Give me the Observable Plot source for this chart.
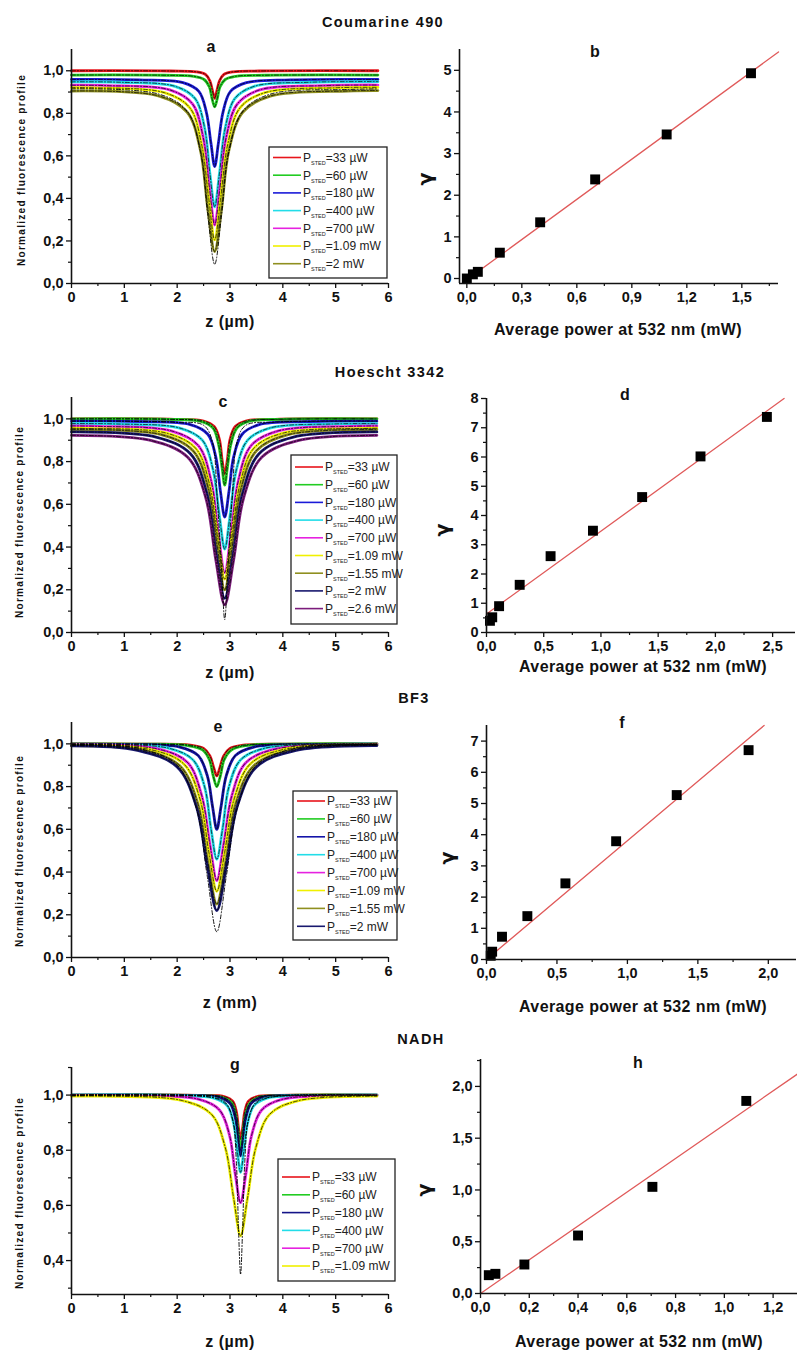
<!DOCTYPE html>
<html><head><meta charset="utf-8">
<script src="https://cdn.jsdelivr.net/npm/d3@7"></script>
<script src="https://cdn.jsdelivr.net/npm/@observablehq/plot@0.6"></script>
<style>
body{margin:0;background:#fff;}
#root{position:relative;width:797px;height:1351px;overflow:hidden;font-family:"Liberation Sans",Arial,sans-serif;color:#111;}
.panel{position:absolute;}
.panel svg{display:block;overflow:visible;}
.txt{position:absolute;white-space:nowrap;font-weight:bold;transform:translate(-50%,-50%);line-height:1;}
</style></head><body><div id="root"></div>
<script>
// ---------- DATA: normalized fluorescence profiles [z, value] ----------
// Coumarine 490 (panel a)
const a33   = [[0,1.0],[1.87,0.999],[2.36,0.995],[2.54,0.982],[2.62,0.952],[2.67,0.904],[2.71,0.87],[2.75,0.904],[2.80,0.952],[2.88,0.982],[3.06,0.995],[3.55,0.999],[5.8,1.0]];
const a60   = [[0,0.98],[1.75,0.979],[2.31,0.974],[2.51,0.959],[2.61,0.924],[2.66,0.87],[2.71,0.83],[2.76,0.87],[2.81,0.924],[2.91,0.959],[3.11,0.974],[3.67,0.979],[5.8,0.98]];
const a180  = [[0,0.959],[1.27,0.957],[2.11,0.944],[2.41,0.903],[2.55,0.808],[2.64,0.659],[2.71,0.55],[2.78,0.659],[2.87,0.808],[3.01,0.903],[3.31,0.944],[4.15,0.957],[5.8,0.959]];
const a400  = [[0,0.948],[0.91,0.946],[1.96,0.927],[2.34,0.869],[2.52,0.731],[2.62,0.516],[2.71,0.36],[2.80,0.516],[2.91,0.731],[3.09,0.869],[3.46,0.927],[4.51,0.946],[5.8,0.949]];
const a700  = [[0,0.932],[0.67,0.930],[1.86,0.910],[2.29,0.844],[2.49,0.690],[2.61,0.450],[2.71,0.275],[2.81,0.450],[2.93,0.690],[3.14,0.844],[3.56,0.910],[4.75,0.930],[5.8,0.933]];
const a1090 = [[0,0.921],[0.43,0.920],[1.76,0.897],[2.24,0.826],[2.46,0.657],[2.60,0.396],[2.71,0.205],[2.82,0.396],[2.96,0.657],[3.19,0.826],[3.66,0.897],[4.99,0.920],[5.8,0.922]];
const a2000 = [[0,0.905],[1.66,0.881],[2.19,0.805],[2.44,0.627],[2.58,0.351],[2.71,0.15],[2.84,0.351],[2.98,0.627],[3.24,0.805],[3.76,0.881],[5.23,0.905],[5.8,0.907]];
const aFit  = [[0,0.915],[1.66,0.89],[2.19,0.81],[2.44,0.62],[2.58,0.32],[2.71,0.09],[2.84,0.32],[2.98,0.62],[3.24,0.81],[3.76,0.89],[5.23,0.912],[5.8,0.915]];
// Hoescht 3342 (panel c)
const c33   = [[0,1.0],[1.94,0.998],[2.5,0.99],[2.7,0.964],[2.8,0.903],[2.85,0.809],[2.9,0.74],[2.95,0.809],[3.0,0.903],[3.1,0.964],[3.3,0.99],[3.86,0.998],[5.78,1.0]];
const c60   = [[0,1.0],[1.82,0.998],[2.45,0.988],[2.68,0.957],[2.78,0.885],[2.85,0.772],[2.9,0.69],[2.95,0.772],[3.02,0.885],[3.13,0.957],[3.35,0.988],[3.98,0.998],[5.78,1.0]];
const c180  = [[0,0.989],[1.34,0.987],[2.25,0.973],[2.58,0.928],[2.73,0.823],[2.82,0.659],[2.9,0.54],[2.98,0.659],[3.07,0.823],[3.23,0.928],[3.55,0.973],[4.46,0.987],[5.78,0.989]];
const c400  = [[0,0.978],[0.86,0.976],[2.05,0.957],[2.48,0.899],[2.68,0.761],[2.8,0.546],[2.9,0.39],[3.0,0.546],[3.12,0.761],[3.33,0.899],[3.75,0.957],[4.94,0.976],[5.78,0.978]];
const c700  = [[0,0.967],[0.5,0.965],[1.9,0.943],[2.4,0.875],[2.64,0.713],[2.78,0.463],[2.9,0.28],[3.02,0.463],[3.16,0.713],[3.4,0.875],[3.9,0.943],[5.3,0.965],[5.78,0.967]];
const c1090 = [[0,0.956],[0.26,0.955],[1.8,0.933],[2.35,0.862],[2.61,0.696],[2.77,0.438],[2.9,0.25],[3.03,0.438],[3.19,0.696],[3.45,0.862],[4.0,0.933],[5.54,0.955],[5.78,0.956]];
const c1550 = [[0,0.95],[1.7,0.926],[2.3,0.851],[2.59,0.674],[2.76,0.40],[2.9,0.2],[3.04,0.40],[3.21,0.674],[3.5,0.851],[4.1,0.926],[5.78,0.95]];
const c2000 = [[0,0.939],[1.6,0.915],[2.25,0.837],[2.56,0.653],[2.74,0.368],[2.9,0.16],[3.06,0.368],[3.24,0.653],[3.55,0.837],[4.2,0.915],[5.78,0.939]];
const c2600 = [[0,0.923],[1.5,0.899],[2.2,0.82],[2.54,0.632],[2.73,0.342],[2.9,0.13],[3.07,0.342],[3.26,0.632],[3.6,0.82],[4.3,0.899],[5.78,0.923]];
const cFit  = [[0,0.99],[1.94,0.985],[2.5,0.97],[2.66,0.9],[2.76,0.62],[2.84,0.3],[2.9,0.06],[2.96,0.3],[3.04,0.62],[3.14,0.9],[3.3,0.97],[3.86,0.985],[5.78,0.99]];
// BF3 (panel e)
const e33   = [[0,1.0],[1.55,0.999],[2.25,0.994],[2.5,0.979],[2.62,0.944],[2.69,0.89],[2.75,0.85],[2.81,0.89],[2.88,0.944],[3.0,0.979],[3.25,0.994],[3.95,0.999],[5.78,1.0]];
const e60   = [[0,1.0],[1.43,0.999],[2.2,0.992],[2.48,0.972],[2.61,0.926],[2.68,0.853],[2.75,0.80],[2.82,0.853],[2.89,0.926],[3.03,0.972],[3.3,0.992],[4.07,0.999],[5.78,1.0]];
const e180  = [[0,0.999],[1.07,0.997],[2.05,0.985],[2.4,0.945],[2.57,0.851],[2.67,0.706],[2.75,0.60],[2.83,0.706],[2.93,0.851],[3.1,0.945],[3.45,0.985],[4.43,0.997],[5.78,0.999]];
const e400  = [[0,0.998],[0.59,0.996],[1.85,0.979],[2.3,0.925],[2.52,0.799],[2.64,0.603],[2.75,0.46],[2.86,0.603],[2.98,0.799],[3.2,0.925],[3.65,0.979],[4.91,0.996],[5.78,0.998]];
const e700  = [[0,0.996],[1.65,0.975],[2.2,0.912],[2.46,0.762],[2.62,0.530],[2.75,0.36],[2.88,0.530],[3.04,0.762],[3.3,0.912],[3.85,0.975],[5.39,0.996],[5.78,0.997]];
const e1090 = [[0,0.994],[1.5,0.973],[2.13,0.905],[2.43,0.743],[2.6,0.493],[2.75,0.31],[2.9,0.493],[3.08,0.743],[3.38,0.905],[4.0,0.973],[5.78,0.995]];
const e1550 = [[0,0.992],[1.35,0.971],[2.05,0.897],[2.39,0.721],[2.58,0.449],[2.75,0.25],[2.92,0.449],[3.11,0.721],[3.45,0.897],[4.15,0.971],[5.78,0.994]];
const e2000 = [[0,0.991],[1.25,0.97],[2.0,0.892],[2.36,0.71],[2.57,0.427],[2.75,0.22],[2.93,0.427],[3.14,0.71],[3.5,0.892],[4.25,0.97],[5.78,0.992]];
const eFit  = [[0,0.995],[1.25,0.98],[2.0,0.9],[2.36,0.7],[2.57,0.38],[2.75,0.12],[2.93,0.38],[3.14,0.7],[3.5,0.9],[4.25,0.98],[5.78,0.995]];
// NADH (panel g)
const g33   = [[0,1.0],[2.48,0.999],[2.9,0.994],[3.05,0.978],[3.12,0.94],[3.16,0.882],[3.2,0.84],[3.24,0.882],[3.28,0.94],[3.35,0.978],[3.5,0.994],[3.92,0.999],[5.78,1.0]];
const g60   = [[0,1.0],[2.36,0.999],[2.85,0.992],[3.03,0.972],[3.11,0.926],[3.16,0.853],[3.2,0.80],[3.24,0.853],[3.29,0.926],[3.38,0.972],[3.55,0.992],[4.04,0.999],[5.78,1.0]];
const g180  = [[0,1.0],[2.24,0.998],[2.8,0.992],[3.0,0.970],[3.1,0.918],[3.15,0.838],[3.2,0.78],[3.25,0.838],[3.3,0.918],[3.4,0.970],[3.6,0.992],[4.16,0.998],[5.78,1.0]];
const g400  = [[0,1.0],[2.0,0.998],[2.7,0.989],[2.95,0.961],[3.07,0.896],[3.14,0.794],[3.2,0.72],[3.26,0.794],[3.33,0.896],[3.45,0.961],[3.7,0.989],[4.4,0.998],[5.78,1.0]];
const g700  = [[0,0.999],[1.28,0.997],[2.4,0.985],[2.8,0.946],[2.99,0.855],[3.1,0.713],[3.2,0.61],[3.3,0.713],[3.41,0.855],[3.6,0.946],[4.0,0.985],[5.12,0.997],[5.78,0.998]];
const g1090 = [[0,0.996],[0.56,0.996],[2.1,0.98],[2.65,0.93],[2.91,0.81],[3.07,0.625],[3.2,0.49],[3.33,0.625],[3.49,0.81],[3.75,0.93],[4.3,0.98],[5.78,0.996]];
const gFit  = [[0,1.0],[2.48,0.996],[2.9,0.975],[3.05,0.91],[3.12,0.758],[3.16,0.522],[3.2,0.35],[3.24,0.522],[3.28,0.758],[3.35,0.91],[3.5,0.975],[3.92,0.996],[5.78,1.0]];

// legend labels
const aLabels = ["=33 µW","=60 µW","=180 µW","=400 µW","=700 µW","=1.09 mW","=2 mW"];
const cLabels = ["=33 µW","=60 µW","=180 µW","=400 µW","=700 µW","=1.09 mW","=1.55 mW","=2 mW","=2.6 mW"];
const eLabels = ["=33 µW","=60 µW","=180 µW","=400 µW","=700 µW","=1.09 mW","=1.55 mW","=2 mW"];
const gLabels = ["=33 µW","=60 µW","=180 µW","=400 µW","=700 µW","=1.09 mW"];

// ---------- DATA: gamma vs average power ----------
const bPower = [0, 0.033, 0.06, 0.18, 0.40, 0.70, 1.09, 1.55];
const bGamma = [0, 0.10, 0.16, 0.62, 1.35, 2.38, 3.46, 4.93];
const bFitX = [0, 1.7], bFitY = [-0.03, 5.44];
const dPower = [0.03, 0.05, 0.11, 0.29, 0.56, 0.93, 1.36, 1.87, 2.45];
const dGamma = [0.40, 0.52, 0.90, 1.63, 2.61, 3.48, 4.63, 6.02, 7.37];
const dFitX = [0, 2.6], dFitY = [0.63, 8.0];
const fPower = [0.03, 0.04, 0.11, 0.29, 0.56, 0.92, 1.35, 1.86];
const fGamma = [0.12, 0.25, 0.73, 1.39, 2.44, 3.79, 5.27, 6.71];
const fFitX = [0, 1.97], fFitY = [0, 7.5];
const hPower = [0.034, 0.061, 0.18, 0.40, 0.705, 1.09];
const hGamma = [0.177, 0.19, 0.28, 0.56, 1.03, 1.86];
const hFitX = [0, 1.3], hFitY = [0, 2.12];

// ---------- STYLE ----------
const RED="#e8151b", GREEN="#22cc22", BLUE="#1a1ad8", CYAN="#22dde8", MAGENTA="#e622e0",
      YELLOW="#f0f000", OLIVE="#8f8f1f", NAVY="#18186e", PURPLE="#7c1c7c";
const aColors = [RED,GREEN,BLUE,CYAN,MAGENTA,YELLOW,OLIVE];
const cColors = [RED,GREEN,BLUE,CYAN,MAGENTA,YELLOW,OLIVE,NAVY,PURPLE];
const eColors = [RED,GREEN,"#1414a8",CYAN,MAGENTA,YELLOW,OLIVE,NAVY];
const gColors = [RED,GREEN,"#141488",CYAN,MAGENTA,YELLOW];

const fmtComma = d => d3.format(".1f")(d).replace(".", ",");
const fmtInt = d => d3.format("d")(d);
const root = document.getElementById("root");
const FONT = "'Liberation Sans', Arial, sans-serif";

function place(node, left, top) {
  const div = document.createElement("div");
  div.className = "panel";
  div.style.left = left + "px"; div.style.top = top + "px";
  div.appendChild(node); root.appendChild(div);
}
function text(str, x, y, size, opts = {}) {
  const d = document.createElement("div");
  d.className = "txt"; d.textContent = str;
  d.style.left = x + "px"; d.style.top = y + "px"; d.style.fontSize = size + "px";
  if (opts.ls) d.style.letterSpacing = opts.ls + "px";
  if (opts.rot) d.style.transform = "translate(-50%,-50%) rotate(-90deg)";
  if (opts.ff) d.style.fontFamily = opts.ff;
  root.appendChild(d);
}

function axesMarks(cfg) {
  return [
    Plot.axisX({ticks: cfg.xMinor, tickSize: 3, tickFormat: () => "", label: null, strokeWidth: 1.2}),
    Plot.axisY({ticks: cfg.yMinor, tickSize: 3, tickFormat: () => "", label: null, strokeWidth: 1.2}),
    Plot.axisX({ticks: cfg.xTicks, tickFormat: cfg.xFmt, tickSize: 5, tickPadding: 3, label: null,
                fontSize: 14.5, fontWeight: "bold", strokeWidth: 1.3}),
    Plot.axisY({ticks: cfg.yTicks, tickFormat: cfg.yFmt, tickSize: 5, tickPadding: 3, label: null,
                fontSize: 14.5, fontWeight: "bold", strokeWidth: 1.3}),
    Plot.ruleX([cfg.xDomain[0]], {stroke: "#111", strokeWidth: 1.6}),
    Plot.ruleY([cfg.yDomain[0]], {stroke: "#111", strokeWidth: 1.6})
  ];
}

function makePlot(cfg, marks) {
  const svgLeft = cfg.right ? 400 : 0, width = cfg.right ? 397 : 400;
  const [fx0, fx1, fy0, fy1] = cfg.frame;
  const mt = 30, mb = 50;
  const svg = Plot.plot({
    width, height: (fy1 - fy0) + mt + mb,
    marginLeft: fx0 - svgLeft, marginRight: svgLeft + width - fx1,
    marginTop: mt, marginBottom: mb,
    x: {domain: cfg.xDomain, label: null},
    y: {domain: cfg.yDomain, label: null},
    style: {fontFamily: FONT, fontSize: "14px", color: "#111", background: "transparent", overflow: "visible"},
    marks: [...marks, ...axesMarks(cfg)]
  });
  place(svg, svgLeft, fy0 - mt);
  return {svg, offX: svgLeft, offY: fy0 - mt};
}

function profilePanel(cfg) {
  const marks = [];
  cfg.series.forEach((pts, i) => {
    marks.push(Plot.line(pts, {x: d => d[0], y: d => d[1], stroke: cfg.colors[i], strokeWidth: 2.8, curve: "catmull-rom"}));
  });
  cfg.series.forEach(pts => {
    marks.push(Plot.line(pts, {x: d => d[0], y: d => d[1], stroke: "#000", strokeWidth: 0.7, strokeDasharray: "4,2,1,2", curve: "catmull-rom"}));
  });
  (cfg.fits || []).forEach(pts => {
    marks.push(Plot.line(pts, {x: d => d[0], y: d => d[1], stroke: "#000", strokeWidth: 0.9, strokeDasharray: "4,2,1,2", curve: "catmull-rom"}));
  });
  const {svg, offX, offY} = makePlot({
    ...cfg, right: false, xDomain: [0, 6],
    xTicks: [0,1,2,3,4,5,6], xMinor: [0.5,1.5,2.5,3.5,4.5,5.5],
    xFmt: fmtInt, yFmt: fmtComma
  }, marks);
  // legend
  const L = cfg.legend;
  const g = d3.select(svg).append("g").attr("font-family", FONT).attr("text-anchor", "start");
  g.append("rect").attr("x", L.x - offX).attr("y", L.y - offY).attr("width", L.w).attr("height", L.h)
    .attr("fill", "white").attr("stroke", "#222").attr("stroke-width", 1.3);
  cfg.labels.forEach((lab, i) => {
    const cy = L.first + i * L.step - offY;
    const x0 = L.x - offX;
    g.append("line").attr("x1", x0 + 4).attr("x2", x0 + 32).attr("y1", cy).attr("y2", cy)
      .attr("stroke", cfg.colors[i]).attr("stroke-width", 1.6);
    const t = g.append("text").attr("x", x0 + 34).attr("y", cy + 4.3).attr("text-anchor", "start")
      .attr("font-size", 12).attr("font-weight", "normal").attr("fill", "#222");
    t.append("tspan").text("P");
    t.append("tspan").attr("font-size", 5.5).attr("dy", 3).text("STED");
    t.append("tspan").attr("dy", -3).text(lab);
  });
}

function gammaPanel(cfg) {
  const pts = cfg.px.map((x, i) => ({x, y: cfg.py[i]}));
  const fit = cfg.fx.map((x, i) => ({x, y: cfg.fy[i]}));
  makePlot({...cfg, right: true}, [
    Plot.line(fit, {x: "x", y: "y", stroke: "#e05a5a", strokeWidth: 1.3}),
    Plot.dot(pts, {x: "x", y: "y", symbol: "square", r: 5.6, fill: "#000", stroke: "none"})
  ]);
}

// ---------- Panels ----------
profilePanel({frame: [71, 388, 49, 283], yDomain: [0, 1.1],
  yTicks: [0,0.2,0.4,0.6,0.8,1.0], yMinor: [0.1,0.3,0.5,0.7,0.9],
  series: [a33,a60,a180,a400,a700,a1090,a2000], fits: [aFit],
  colors: aColors, labels: aLabels,
  legend: {x: 269, y: 147, w: 118, h: 131, first: 157.5, step: 17.7}});

profilePanel({frame: [71, 388, 397, 632], yDomain: [0, 1.1],
  yTicks: [0,0.2,0.4,0.6,0.8,1.0], yMinor: [0.1,0.3,0.5,0.7,0.9],
  series: [c33,c60,c180,c400,c700,c1090,c1550,c2000,c2600], fits: [cFit],
  colors: cColors, labels: cLabels,
  legend: {x: 291, y: 455, w: 106, h: 169, first: 467, step: 17.7}});

profilePanel({frame: [71, 388, 722, 957], yDomain: [0, 1.1],
  yTicks: [0,0.2,0.4,0.6,0.8,1.0], yMinor: [0.1,0.3,0.5,0.7,0.9],
  series: [e33,e60,e180,e400,e700,e1090,e1550,e2000], fits: [eFit],
  colors: eColors, labels: eLabels,
  legend: {x: 293, y: 791, w: 104, h: 149, first: 801, step: 17.9}});

profilePanel({frame: [71, 388, 1067, 1294], yDomain: [0.277, 1.1],
  yTicks: [0.4,0.6,0.8,1.0], yMinor: [0.3,0.5,0.7,0.9,1.1],
  series: [g33,g60,g180,g400,g700,g1090], fits: [gFit],
  colors: gColors, labels: gLabels,
  legend: {x: 278, y: 1159, w: 117, h: 122, first: 1177, step: 17.8}});

gammaPanel({frame: [459, 778, 49, 283], xDomain: [-0.04, 1.7], yDomain: [-0.12, 5.5],
  xTicks: [0,0.3,0.6,0.9,1.2,1.5], xMinor: [0.15,0.45,0.75,1.05,1.35,1.65],
  yTicks: [0,1,2,3,4,5], yMinor: [0.5,1.5,2.5,3.5,4.5],
  xFmt: fmtComma, yFmt: fmtInt, px: bPower, py: bGamma, fx: bFitX, fy: bFitY});

gammaPanel({frame: [486, 795, 398, 632], xDomain: [0, 2.7], yDomain: [0, 8],
  xTicks: [0,0.5,1,1.5,2,2.5], xMinor: [0.25,0.75,1.25,1.75,2.25],
  yTicks: [0,1,2,3,4,5,6,7,8], yMinor: [0.5,1.5,2.5,3.5,4.5,5.5,6.5,7.5],
  xFmt: fmtComma, yFmt: fmtInt, px: dPower, py: dGamma, fx: dFitX, fy: dFitY});

gammaPanel({frame: [486, 796, 725, 959], xDomain: [0, 2.2], yDomain: [0, 7.5],
  xTicks: [0,0.5,1,1.5,2], xMinor: [0.25,0.75,1.25,1.75],
  yTicks: [0,1,2,3,4,5,6,7], yMinor: [0.5,1.5,2.5,3.5,4.5,5.5,6.5],
  xFmt: fmtComma, yFmt: fmtInt, px: fPower, py: fGamma, fx: fFitX, fy: fFitY});

gammaPanel({frame: [480, 797, 1059, 1293], xDomain: [0, 1.3], yDomain: [0, 2.26],
  xTicks: [0,0.2,0.4,0.6,0.8,1.0,1.2], xMinor: [0.1,0.3,0.5,0.7,0.9,1.1],
  yTicks: [0,0.5,1,1.5,2], yMinor: [0.25,0.75,1.25,1.75,2.25],
  xFmt: fmtComma, yFmt: fmtComma, px: hPower, py: hGamma, fx: hFitX, fy: hFitY});

// ---------- Text ----------
text("Coumarine 490", 383, 22, 14.5, {ls: 1.4});
text("Hoescht 3342", 390, 372, 14.5, {ls: 1.4});
text("BF3", 414, 698, 14.5, {ls: 1.4});
text("NADH", 421, 1039, 14.5, {ls: 1.4});
[["a",211,47],["b",595,52],["c",223,402],["d",625,395],["e",218,727],["f",622,723],["g",235,1065],["h",638,1063]]
  .forEach(([s,x,y]) => text(s, x, y, 16));
text("z (µm)", 230, 322, 16, {ls: 0.5});
text("z (µm)", 230, 673, 16, {ls: 0.5});
text("z (mm)", 230, 1003, 16, {ls: 0.5});
text("z (µm)", 230, 1342, 16, {ls: 0.5});
text("Average power at 532 nm (mW)", 618, 330, 16, {ls: 0.4});
text("Average power at 532 nm (mW)", 643, 667, 16, {ls: 0.4});
text("Average power at 532 nm (mW)", 643, 1007, 16, {ls: 0.4});
text("Average power at 532 nm (mW)", 639, 1342, 16, {ls: 0.4});
[[22,170],[20,522],[20,851],[20,1193]].forEach(([x,y]) =>
  text("Normalized fluorescence profile", x, y, 10, {ls: 1.3, rot: true}));
[[425,179],[442,530],[447,858],[424,1190]].forEach(([x,y]) => text("γ", x, y, 19, {rot: true, ff: "'DejaVu Sans', sans-serif"}));
</script></body></html>
